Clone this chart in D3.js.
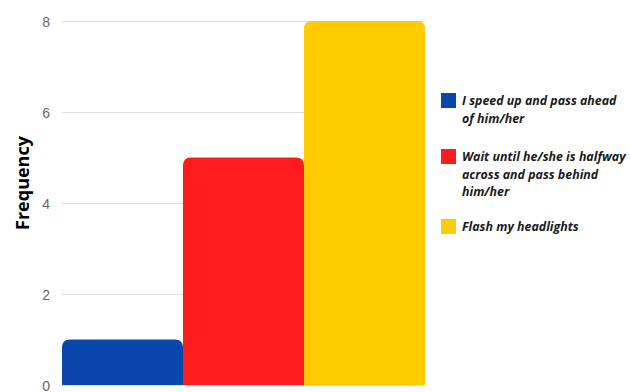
<!DOCTYPE html>
<html>
<head>
<meta charset="utf-8">
<script src="https://cdn.jsdelivr.net/npm/d3@7"></script>
<style>
  html, body { margin: 0; padding: 0; background: #fff; }
  svg { display: block; font-family: "Open Sans", sans-serif; }
</style>
</head>
<body>
<svg id="chart" width="630" height="392"></svg>
<script>
// Responses to the pedestrian-crossing question
const categories = [
  "I speed up and pass ahead of him/her",
  "Wait until he/she is halfway across and pass behind him/her",
  "Flash my headlights"
];
const frequencies = [1, 5, 8];
const legendLines = [
  ["I speed up and pass ahead", "of him/her"],
  ["Wait until he/she is halfway", "across and pass behind", "him/her"],
  ["Flash my headlights"]
];
const colors = ["#0a47ab", "#fe1b1b", "#ffcc02"];
const yTicks = [0, 2, 4, 6, 8];

const svg = d3.select("#chart");
const margin = { left: 62, right: 205, top: 21, bottom: 7 };
const width = 630, height = 392;

const x = d3.scaleBand()
  .domain(categories)
  .range([margin.left, width - margin.right])
  .paddingInner(0)
  .paddingOuter(0);

const y = d3.scaleLinear()
  .domain([0, 8])
  .range([height - margin.bottom, margin.top]);

// Gridlines and tick labels
const yAxis = d3.axisLeft(y)
  .tickValues(yTicks)
  .tickSize(-(width - margin.right - margin.left))
  .tickPadding(12);

const gAxis = svg.append("g")
  .attr("transform", `translate(${margin.left},0)`)
  .call(yAxis);
gAxis.select(".domain").remove();
gAxis.selectAll(".tick line").attr("stroke", "#dedede").attr("stroke-width", 1);
gAxis.selectAll(".tick text")
  .attr("fill", "#666")
  .style("font-size", "14px")
  .attr("dy", "0.36em");

// Bars with rounded top corners
const r = 8;
function topRounded(x0, y0, w, h) {
  const rr = Math.min(r, h, w / 2);
  return `M${x0},${y0 + h}V${y0 + rr}Q${x0},${y0} ${x0 + rr},${y0}` +
    `H${x0 + w - rr}Q${x0 + w},${y0} ${x0 + w},${y0 + rr}V${y0 + h}Z`;
}

svg.append("g").selectAll("path")
  .data(categories)
  .join("path")
  .attr("fill", (d, i) => colors[i])
  .attr("d", (d, i) => topRounded(x(d), y(frequencies[i]), x.bandwidth(), y(0) - y(frequencies[i])));

// Axis title
svg.append("text")
  .attr("transform", "translate(29,183) rotate(-90)")
  .attr("text-anchor", "middle")
  .style("font-size", "18px")
  .style("font-weight", "700")
  .attr("fill", "#000")
  .text("Frequency");

// Legend
const legendTops = [93, 149, 219];
const legend = svg.append("g");
legendLines.forEach((lines, i) => {
  const g = legend.append("g").attr("transform", `translate(441,${legendTops[i]})`);
  g.append("rect")
    .attr("width", 15).attr("height", 15)
    .attr("fill", colors[i]);
  const t = g.append("text")
    .attr("x", 21)
    .attr("y", 12)
    .style("font-size", "12.4px")
    .style("font-weight", "700")
    .style("font-style", "italic")
    .attr("fill", "#1a1a1a");
  lines.forEach((ln, j) => {
    t.append("tspan").attr("x", 21).attr("dy", j === 0 ? 0 : 17.5).text(ln);
  });
});
</script>
</body>
</html>
